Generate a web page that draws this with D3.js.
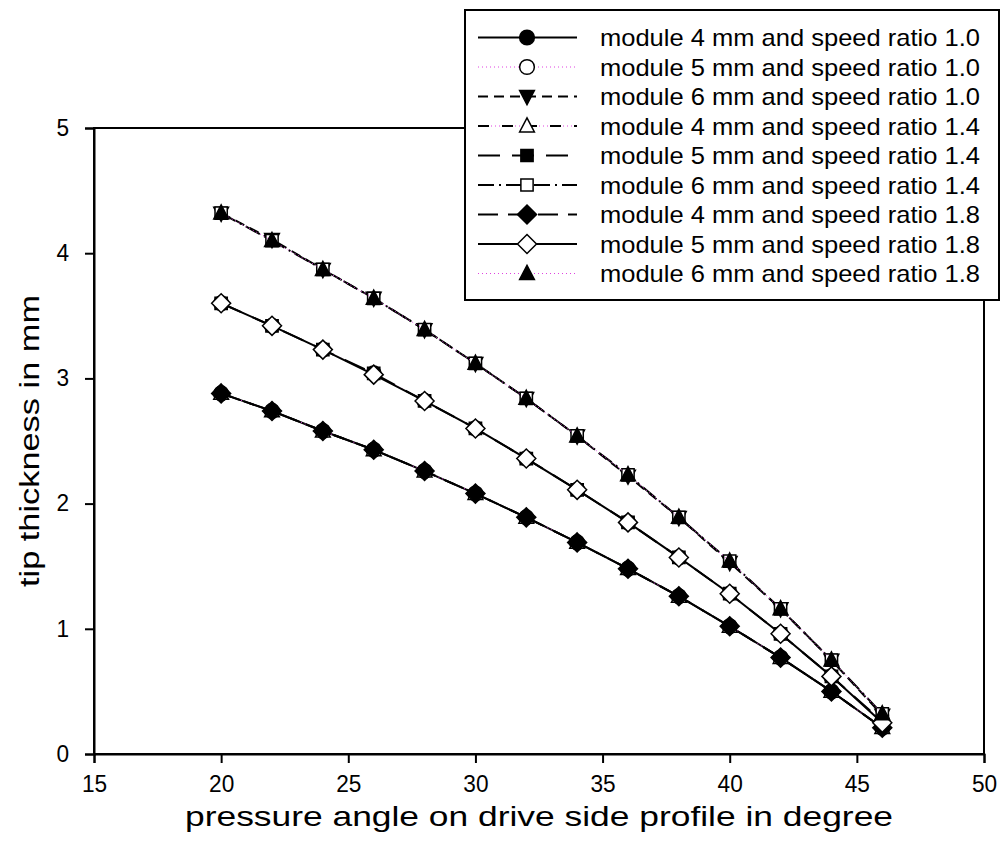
<!DOCTYPE html>
<html><head><meta charset="utf-8">
<script src="https://cdn.jsdelivr.net/npm/d3@7"></script>
<style>body{margin:0;background:#fff}svg{display:block}text{font-family:"Liberation Sans",Arial,sans-serif;fill:#000}</style>
</head><body><svg id="c" width="1003" height="855"></svg>
<script>
const angles = [20,22,24,26,28,30,32,34,36,38,40,42,44,46];
const m4r10 = [2.88,2.74,2.58,2.43,2.26,2.08,1.89,1.69,1.48,1.26,1.02,0.77,0.50,0.21];
const m5r10 = [3.60,3.42,3.23,3.04,2.82,2.60,2.36,2.11,1.85,1.57,1.28,0.96,0.62,0.26];
const m6r10 = [4.32,4.11,3.87,3.64,3.39,3.12,2.84,2.54,2.22,1.89,1.53,1.16,0.75,0.31];
const m4r14 = [2.88,2.74,2.58,2.43,2.26,2.08,1.89,1.69,1.48,1.26,1.02,0.77,0.50,0.21];
const m5r14 = [3.60,3.42,3.23,3.04,2.82,2.60,2.36,2.11,1.85,1.57,1.28,0.96,0.62,0.26];
const m6r14 = [4.32,4.10,3.87,3.64,3.39,3.12,2.84,2.54,2.23,1.89,1.54,1.16,0.75,0.32];
const m4r18 = [2.88,2.74,2.58,2.43,2.26,2.08,1.89,1.69,1.48,1.26,1.02,0.77,0.50,0.21];
const m5r18 = [3.60,3.42,3.23,3.03,2.82,2.60,2.36,2.11,1.85,1.57,1.28,0.96,0.62,0.25];
const m6r18 = [4.32,4.10,3.87,3.64,3.39,3.12,2.84,2.54,2.23,1.89,1.54,1.16,0.75,0.32];
const seriesNames = [
 "module 4 mm and speed ratio 1.0","module 5 mm and speed ratio 1.0","module 6 mm and speed ratio 1.0",
 "module 4 mm and speed ratio 1.4","module 5 mm and speed ratio 1.4","module 6 mm and speed ratio 1.4",
 "module 4 mm and speed ratio 1.8","module 5 mm and speed ratio 1.8","module 6 mm and speed ratio 1.8"];
const seriesValues = [m4r10,m5r10,m6r10,m4r14,m5r14,m6r14,m4r18,m5r18,m6r18];
const xTicks = [15,20,25,30,35,40,45,50];
const yTicks = [0,1,2,3,4,5];
const xTitle = "pressure angle on drive side profile in degree";
const yTitle = "tip thickness in mm";

const MAG = "#e040e0";
const styles = [
 {sym:d3.symbolCircle, fill:"#000", size:170, layers:[{c:"#000",d:null}]},
 {sym:d3.symbolCircle, fill:"#fff", size:170, layers:[{c:MAG,d:"1,3",w:1}]},
 {sym:"tridown", fill:"#000", size:150, layers:[{c:"#000",d:"10,6"}]},
 {sym:"triup", fill:"#fff", size:150, layers:[{c:"#000",d:"11,13"},{c:MAG,d:"0,13,1,3,1,3,1,2",w:1}]},
 {sym:d3.symbolSquare, fill:"#000", size:150, layers:[{c:"#000",d:"22,12"}]},
 {sym:d3.symbolSquare, fill:"#fff", size:150, layers:[{c:"#000",d:"16,5,2,5"}]},
 {sym:"diamond", fill:"#000", size:190, layers:[{c:"#000",d:"20,10"}]},
 {sym:"diamond", fill:"#fff", size:190, layers:[{c:"#000",d:null}]},
 {sym:"triup", fill:"#000", size:150, layers:[{c:MAG,d:"1,3",w:1}]}
];
function symPath(s,size){
  if(s==="triup"){const r=8.2;return `M0,${-r}L${r*0.9},${r*0.72}L${-r*0.9},${r*0.72}Z`;}
  if(s==="tridown"){const r=8.2;return `M0,${r}L${r*0.9},${-r*0.72}L${-r*0.9},${-r*0.72}Z`;}
  if(s==="diamond"){const r=9.5;return `M0,${-r}L${r},0L0,${r}L${-r},0Z`;}
  return d3.symbol(s,size)();
}

const svg = d3.select("#c");
const L=94,R=984,T=128,B=754;
const x = d3.scaleLinear().domain([15,50]).range([L,R]);
const y = d3.scaleLinear().domain([0,5]).range([B,T]);

svg.append("rect").attr("x",L).attr("y",T).attr("width",R-L).attr("height",B-T)
  .attr("fill","none").attr("stroke","#000").attr("stroke-width",2);

const xa = svg.append("g").attr("transform",`translate(0,${B})`)
  .call(d3.axisBottom(x).tickValues(xTicks).tickSize(9).tickPadding(13).tickFormat(d3.format("d")));
const ya = svg.append("g").attr("transform",`translate(${L},0)`)
  .call(d3.axisLeft(y).tickValues(yTicks).tickSize(9).tickPadding(16).tickFormat(d3.format("d")));
[xa,ya].forEach(a=>{a.select(".domain").attr("stroke-width",2);a.selectAll(".tick line").attr("stroke-width",2);
  a.selectAll("text").attr("font-size",23).attr("font-family","Liberation Sans, Arial, sans-serif").attr("fill","#000")
   .attr("textLength",d=>String(d).length*12.6).attr("lengthAdjust","spacingAndGlyphs");});

svg.append("text").attr("x",(L+R)/2).attr("y",826).attr("text-anchor","middle").attr("font-size",28)
  .attr("textLength",708).attr("lengthAdjust","spacingAndGlyphs").text(xTitle);
svg.append("text").attr("transform",`translate(39,${(T+B)/2}) rotate(-90)`).attr("text-anchor","middle").attr("font-size",27)
  .attr("textLength",292).attr("lengthAdjust","spacingAndGlyphs").text(yTitle);

const line = d3.line().x(d=>x(d[0])).y(d=>y(d[1]));
seriesValues.forEach((vals,i)=>{
  const st=styles[i];
  const pts=angles.map((a,j)=>[a,vals[j]]);
  const g=svg.append("g");
  st.layers.forEach(ly=>{
    g.append("path").attr("d",line(pts)).attr("fill","none").attr("stroke",ly.c)
     .attr("stroke-width",ly.w||2).attr("stroke-dasharray",ly.d);
  });
  g.selectAll("path.m").data(pts).join("path").attr("class","m")
   .attr("transform",d=>`translate(${x(d[0])},${y(d[1])})`)
   .attr("d",symPath(st.sym,st.size)).attr("fill",st.fill).attr("stroke","#000").attr("stroke-width",1.5);
});

const lg = svg.append("g");
lg.append("rect").attr("x",465).attr("y",10).attr("width",534).attr("height",290)
  .attr("fill","#fff").attr("stroke","#000").attr("stroke-width",2);
seriesNames.forEach((nm,i)=>{
  const st=styles[i]; const ry=37.5+i*29.5;
  st.layers.forEach(ly=>{
    lg.append("path").attr("d",`M478,${ry}H577`).attr("stroke",ly.c).attr("stroke-width",ly.w||2)
      .attr("stroke-dasharray",ly.d).attr("fill","none");
  });
  lg.append("path").attr("transform",`translate(527,${ry})`).attr("d",symPath(st.sym,st.size))
    .attr("fill",st.fill).attr("stroke","#000").attr("stroke-width",1.5);
  lg.append("text").attr("x",600).attr("y",ry+8.5).attr("font-size",24)
    .attr("textLength",380).attr("lengthAdjust","spacingAndGlyphs").text(nm);
});
</script></body></html>
